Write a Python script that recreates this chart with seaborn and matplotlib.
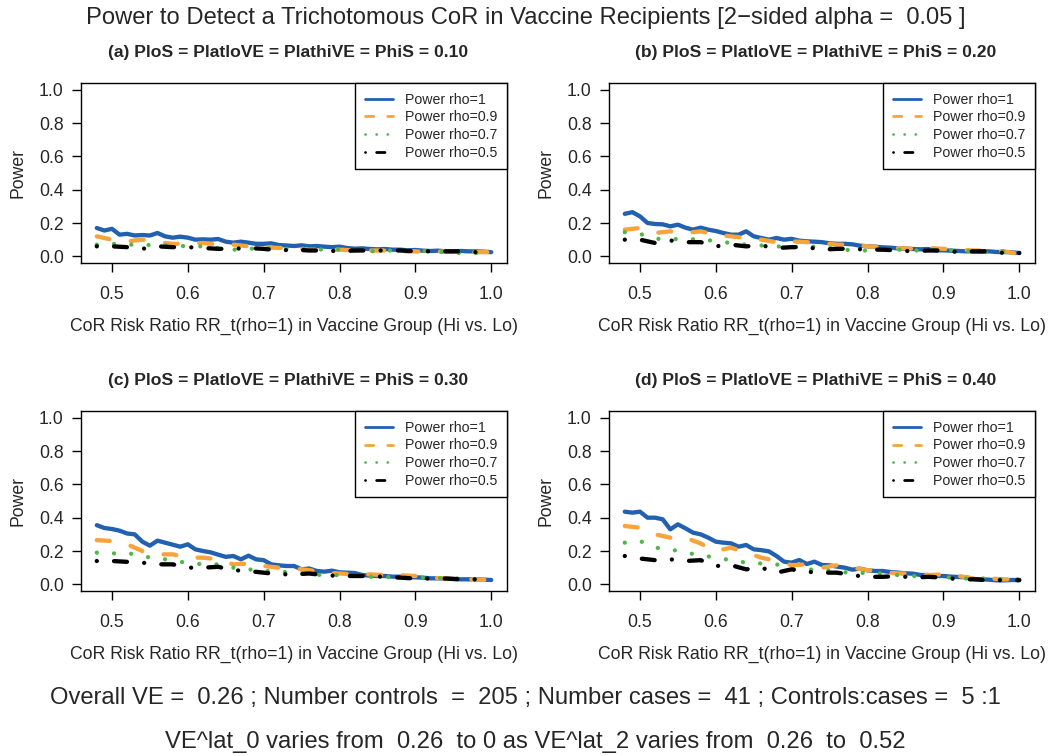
import matplotlib
matplotlib.use("Agg")
import matplotlib.pyplot as plt
from matplotlib import font_manager
from matplotlib.lines import Line2D
import seaborn as sns

# risk ratio grid (x axis) for the rho < 1 curves
rr = [0.48, 0.50, 0.52, 0.54, 0.56, 0.58, 0.60, 0.62, 0.64, 0.66, 0.68, 0.70, 0.72, 0.74,
      0.76, 0.78, 0.80, 0.82, 0.84, 0.86, 0.88, 0.90, 0.92, 0.94, 0.96, 0.98, 1.00]
# finer grid for the rho = 1 curves
rr_fine = [0.48, 0.49, 0.50, 0.51, 0.52, 0.53, 0.54, 0.55, 0.56, 0.57, 0.58, 0.59, 0.60, 0.61,
           0.62, 0.63, 0.64, 0.65, 0.66, 0.67, 0.68, 0.69, 0.70, 0.71, 0.72, 0.73, 0.74, 0.75,
           0.76, 0.77, 0.78, 0.79, 0.80, 0.81, 0.82, 0.83, 0.84, 0.85, 0.86, 0.87, 0.88, 0.89,
           0.90, 0.91, 0.92, 0.93, 0.94, 0.95, 0.96, 0.97, 0.98, 0.99, 1.00]

# (a) PhiS = 0.10
a_rho1 = [0.170, 0.155, 0.165, 0.130, 0.135, 0.125, 0.128, 0.125, 0.140, 0.120, 0.112, 0.118, 0.112, 0.100,
          0.102, 0.100, 0.104, 0.088, 0.082, 0.088, 0.082, 0.075, 0.075, 0.078, 0.068, 0.065, 0.062, 0.066,
          0.060, 0.062, 0.058, 0.055, 0.058, 0.050, 0.046, 0.048, 0.044, 0.042, 0.044, 0.040, 0.040, 0.036,
          0.038, 0.034, 0.032, 0.034, 0.030, 0.030, 0.032, 0.030, 0.030, 0.028, 0.025]
a_rho09 = [0.120, 0.100, 0.090, 0.100, 0.085, 0.075, 0.075, 0.080, 0.070, 0.070, 0.060, 0.055, 0.050, 0.050,
           0.040, 0.040, 0.040, 0.035, 0.035, 0.035, 0.030, 0.030, 0.025, 0.030, 0.025, 0.025, 0.025]
a_rho07 = [0.070, 0.075, 0.070, 0.070, 0.065, 0.065, 0.060, 0.060, 0.050, 0.040, 0.045, 0.050, 0.045, 0.045,
           0.045, 0.040, 0.040, 0.035, 0.030, 0.035, 0.035, 0.035, 0.030, 0.025, 0.020, 0.020, 0.020]
a_rho05 = [0.060, 0.060, 0.055, 0.045, 0.060, 0.055, 0.055, 0.050, 0.045, 0.045, 0.050, 0.045, 0.035, 0.040,
           0.035, 0.035, 0.030, 0.035, 0.035, 0.035, 0.035, 0.030, 0.030, 0.030, 0.030, 0.025, 0.020]

# (b) PhiS = 0.20
b_rho1 = [0.255, 0.265, 0.240, 0.200, 0.194, 0.192, 0.180, 0.190, 0.172, 0.160, 0.172, 0.160, 0.152, 0.140,
          0.130, 0.130, 0.150, 0.120, 0.110, 0.100, 0.110, 0.100, 0.105, 0.094, 0.090, 0.088, 0.085, 0.078,
          0.075, 0.075, 0.072, 0.064, 0.060, 0.058, 0.054, 0.052, 0.048, 0.046, 0.044, 0.042, 0.044, 0.036,
          0.036, 0.034, 0.032, 0.030, 0.030, 0.028, 0.030, 0.026, 0.026, 0.024, 0.020]
b_rho09 = [0.160, 0.170, 0.140, 0.150, 0.140, 0.150, 0.130, 0.120, 0.110, 0.100, 0.085, 0.090, 0.085, 0.080,
           0.070, 0.070, 0.060, 0.055, 0.050, 0.045, 0.050, 0.045, 0.040, 0.035, 0.035, 0.030, 0.015]
b_rho07 = [0.145, 0.135, 0.105, 0.105, 0.100, 0.105, 0.090, 0.080, 0.070, 0.065, 0.060, 0.055, 0.060, 0.055,
           0.045, 0.035, 0.035, 0.040, 0.040, 0.035, 0.035, 0.040, 0.035, 0.030, 0.025, 0.030, 0.025]
b_rho05 = [0.100, 0.100, 0.080, 0.095, 0.085, 0.085, 0.060, 0.070, 0.060, 0.065, 0.050, 0.055, 0.055, 0.040,
           0.045, 0.045, 0.040, 0.040, 0.035, 0.030, 0.035, 0.035, 0.025, 0.030, 0.030, 0.020, 0.020]

# (c) PhiS = 0.30
c_rho1 = [0.355, 0.338, 0.332, 0.322, 0.305, 0.300, 0.256, 0.232, 0.262, 0.250, 0.238, 0.226, 0.240, 0.210,
          0.200, 0.192, 0.178, 0.165, 0.170, 0.150, 0.172, 0.150, 0.145, 0.120, 0.114, 0.110, 0.110, 0.090,
          0.095, 0.080, 0.076, 0.082, 0.072, 0.070, 0.068, 0.056, 0.052, 0.050, 0.050, 0.046, 0.046, 0.042,
          0.042, 0.040, 0.036, 0.036, 0.034, 0.032, 0.030, 0.030, 0.030, 0.028, 0.026]
c_rho09 = [0.265, 0.260, 0.240, 0.200, 0.180, 0.180, 0.160, 0.160, 0.150, 0.120, 0.125, 0.110, 0.100, 0.095,
           0.085, 0.070, 0.065, 0.060, 0.060, 0.055, 0.055, 0.050, 0.040, 0.035, 0.030, 0.030, 0.025]
c_rho07 = [0.190, 0.185, 0.190, 0.165, 0.160, 0.140, 0.130, 0.120, 0.120, 0.100, 0.090, 0.080, 0.080, 0.065,
           0.060, 0.055, 0.055, 0.050, 0.045, 0.045, 0.040, 0.040, 0.040, 0.035, 0.035, 0.030, 0.030]
c_rho05 = [0.140, 0.140, 0.135, 0.130, 0.120, 0.120, 0.100, 0.100, 0.105, 0.085, 0.080, 0.070, 0.060, 0.060,
           0.065, 0.055, 0.050, 0.050, 0.050, 0.045, 0.040, 0.035, 0.035, 0.035, 0.030, 0.030, 0.030]

# (d) PhiS = 0.40
d_rho1 = [0.436, 0.430, 0.436, 0.400, 0.400, 0.390, 0.330, 0.360, 0.336, 0.310, 0.300, 0.280, 0.256, 0.250,
          0.246, 0.226, 0.236, 0.210, 0.205, 0.198, 0.170, 0.136, 0.130, 0.146, 0.122, 0.136, 0.116, 0.114,
          0.106, 0.100, 0.088, 0.094, 0.084, 0.080, 0.080, 0.074, 0.070, 0.066, 0.064, 0.056, 0.056, 0.050,
          0.050, 0.046, 0.044, 0.042, 0.032, 0.030, 0.028, 0.024, 0.024, 0.026, 0.026]
d_rho09 = [0.350, 0.340, 0.300, 0.280, 0.280, 0.245, 0.200, 0.220, 0.190, 0.160, 0.140, 0.115, 0.120, 0.100,
           0.115, 0.100, 0.085, 0.075, 0.065, 0.065, 0.055, 0.060, 0.050, 0.035, 0.035, 0.030, 0.030]
d_rho07 = [0.250, 0.260, 0.220, 0.210, 0.190, 0.175, 0.160, 0.145, 0.130, 0.125, 0.120, 0.090, 0.090, 0.085,
           0.080, 0.065, 0.070, 0.065, 0.055, 0.050, 0.045, 0.045, 0.035, 0.035, 0.035, 0.030, 0.030]
d_rho05 = [0.170, 0.155, 0.145, 0.150, 0.140, 0.145, 0.110, 0.115, 0.090, 0.100, 0.070, 0.090, 0.075, 0.070,
           0.070, 0.055, 0.045, 0.045, 0.050, 0.040, 0.045, 0.040, 0.030, 0.030, 0.025, 0.025, 0.025]

panel_titles = ["(a) PloS = PlatloVE = PlathiVE = PhiS = 0.10",
                "(b) PloS = PlatloVE = PlathiVE = PhiS = 0.20",
                "(c) PloS = PlatloVE = PlathiVE = PhiS = 0.30",
                "(d) PloS = PlatloVE = PlathiVE = PhiS = 0.40"]
series_labels = ["Power rho=1", "Power rho=0.9", "Power rho=0.7", "Power rho=0.5"]
series_colors = ["#2161B0", "#F9A33B", "#4DB848", "#000000"]
series_dashes = [None, (3, 5), (0.01, 4), (0.01, 4, 3, 4)]
xticks = [0.5, 0.6, 0.7, 0.8, 0.9, 1.0]
yticks = [0.0, 0.2, 0.4, 0.6, 0.8, 1.0]

main_title = "Power to Detect a Trichotomous CoR in Vaccine Recipients [2\u2212sided alpha =  0.05 ]"
xlab = "CoR Risk Ratio RR_t(rho=1) in Vaccine Group (Hi vs. Lo)"
foot1 = "Overall VE =  0.26 ; Number controls  =  205 ; Number cases =  41 ; Controls:cases =  5 :1"
foot2 = "VE^lat_0 varies from  0.26  to 0 as VE^lat_2 varies from  0.26  to  0.52"

sns.set_style("ticks")
names = {f.name for f in font_manager.fontManager.ttflist}
if "Liberation Sans Narrow" in names:
    narrow, nscale = "Liberation Sans Narrow", 0.82
else:
    narrow, nscale = "Liberation Sans", 0.70
plt.rcParams["font.family"] = ["Liberation Sans", "DejaVu Sans"]

W, H = 1051, 756
fig = plt.figure(figsize=(W / 100, H / 100), dpi=100)

# axes boxes in pixels: left, top
boxes = [(81, 83), (609, 83), (81, 411), (609, 411)]
bw, bh = 426, 180
data = [[a_rho1, a_rho09, a_rho07, a_rho05],
        [b_rho1, b_rho09, b_rho07, b_rho05],
        [c_rho1, c_rho09, c_rho07, c_rho05],
        [d_rho1, d_rho09, d_rho07, d_rho05]]

for (lx, ty), title, ys in zip(boxes, panel_titles, data):
    ax = fig.add_axes([lx / W, 1 - (ty + bh) / H, bw / W, bh / H])
    for vals, col, dash in zip(ys, series_colors, series_dashes):
        kw = dict(color=col, lw=3.1, solid_capstyle="round", dash_capstyle="round",
                  solid_joinstyle="round", dash_joinstyle="round")
        if dash is not None:
            kw["linestyle"] = (0, dash)
        xs = rr_fine if len(vals) == len(rr_fine) else rr
        sns.lineplot(x=xs, y=vals, ax=ax, legend=False, **kw)
    ax.set_xlim(0.4592, 1.0208)
    ax.set_ylim(-0.04, 1.04)
    ax.set_xticks(xticks)
    ax.set_xticklabels([f"{t:.1f}" for t in xticks])
    ax.set_yticks(yticks)
    ax.set_yticklabels([f"{t:.1f}" for t in yticks])
    ax.tick_params(axis="both", labelsize=12.7, length=6.5, width=1, color="black")
    ax.tick_params(axis="x", pad=10)
    ax.tick_params(axis="y", pad=6)
    for s in ax.spines.values():
        s.set_color("black")
        s.set_linewidth(1)
    ax.set_xlabel(xlab, fontsize=12.7, va="center")
    ax.xaxis.set_label_coords(0.5, -(326 - 263) / bh)
    ax.set_ylabel("Power", fontsize=12.7, va="center")
    ax.yaxis.set_label_coords(-(81 - 18) / bw, 0.5)
    ax.text(0.485, 1 + 31 / bh, title, transform=ax.transAxes, ha="center", va="center",
            fontsize=18 * nscale, fontweight="bold", family=[narrow, "DejaVu Sans"])
    handles = []
    for lab, col, dash in zip(series_labels, series_colors, series_dashes):
        h = Line2D([], [], color=col, lw=2, dash_capstyle="round",
                   linestyle="-" if dash is None else (0, dash))
        handles.append(h)
    leg = ax.legend(handles, series_labels, loc="upper right", bbox_to_anchor=(1, 1),
                    borderaxespad=0, fancybox=False, framealpha=1, edgecolor="black",
                    fontsize=10.2, handlelength=2.0, handletextpad=0.8,
                    labelspacing=0.25, borderpad=0.7)
    leg.get_frame().set_linewidth(1)

fig.text(0.5, 1 - 18 / H, main_title, ha="center", va="center",
         fontsize=24.5 * nscale, family=[narrow, "DejaVu Sans"])
fig.text(0.5, 1 - 698 / H, foot1, ha="center", va="center",
         fontsize=24.5 * nscale, family=[narrow, "DejaVu Sans"])
fig.text(535 / W, 1 - 742 / H, foot2, ha="center", va="center",
         fontsize=24.5 * nscale, family=[narrow, "DejaVu Sans"])

fig.savefig("out.png", dpi=100)
